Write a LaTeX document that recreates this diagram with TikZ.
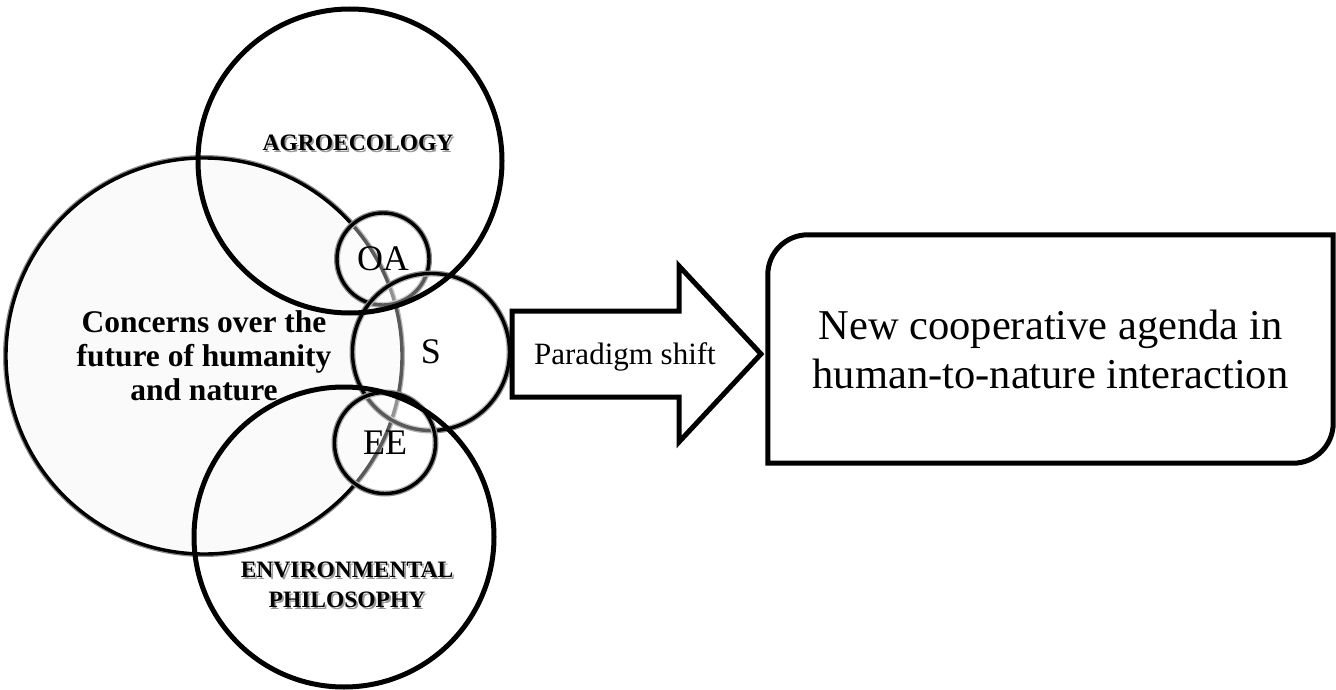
\documentclass[tikz,border=0pt]{standalone}
\usepackage{fontspec}
\setmainfont{Liberation Serif}
\begin{document}
\begin{tikzpicture}[x=1pt,y=-1pt,
  softcirc/.style={circle, inner sep=0pt, draw=black, line width=3.4pt,
     preaction={draw=black!45, line width=6pt}},
  hardcirc/.style={circle, inner sep=0pt, draw=black, line width=5pt},
  headtxt/.style={font=\fontsize{23.5}{30}\selectfont\bfseries, align=center, inner sep=0pt},
  shadowtxt/.style={headtxt, text=black!40},
  smalllbl/.style={font=\fontsize{36}{40}\selectfont},
  thickline/.style={line width=5pt, draw=black, line join=miter}
]
\useasboundingbox (0,0) rectangle (1336,690);

% big concerns circle
\node[softcirc, fill=black!2, minimum size=396pt,
      font=\fontsize{31.5}{34}\selectfont\bfseries, align=center]
  (concerns) at (204,356) {Concerns over the\\future of humanity\\and nature};

% small circles
\node[softcirc, fill=white, fill opacity=0.35, text opacity=1, minimum size=92pt, smalllbl] (oa) at (383,259) {\raisebox{-3pt}{OA}};
\node[softcirc, fill=white, fill opacity=0.35, text opacity=1, minimum size=157pt, smalllbl] (s) at (431,352) {S};
\node[softcirc, fill=white, fill opacity=0.35, text opacity=1, minimum size=101pt, smalllbl] (ee) at (385,443) {EE};

% big field circles
\node[hardcirc, minimum size=304pt] (agro) at (350,161) {};
\node[hardcirc, minimum size=300pt] (env) at (344,537) {};

% headings with shadow
\node[shadowtxt] (agroshadow) at (359.8,144.8) {AGROECOLOGY};
\node[headtxt] (agrolbl) at (358,143) {AGROECOLOGY};
\node[shadowtxt] (envshadow) at (348.8,586.8) {ENVIRONMENTAL\\PHILOSOPHY};
\node[headtxt] (envlbl) at (347,585) {ENVIRONMENTAL\\PHILOSOPHY};

% block arrow
\draw[thickline, fill=white] (512,311) -- (679,311) -- (679,266) -- (761,354)
   -- (679,442) -- (679,397) -- (512,397) -- cycle;
\node[font=\fontsize{31}{34}\selectfont, inner sep=0pt] (shift) at (625,357) {Paradigm shift};

% result box
\node[minimum width=565pt, minimum height=228pt, inner sep=0pt, align=center,
      font=\fontsize{42.5}{49}\selectfont] (agenda) at (1050.5,349)
  {New cooperative agenda in\\human-to-nature interaction};
\draw[thickline] (agenda.south west) -- ([yshift=-40pt]agenda.north west)
   arc[start angle=180, end angle=90, radius=40pt]
   -- (agenda.north east) -- ([yshift=40pt]agenda.south east)
   arc[start angle=0, end angle=-90, radius=40pt] -- cycle;
\end{tikzpicture}
\end{document}
